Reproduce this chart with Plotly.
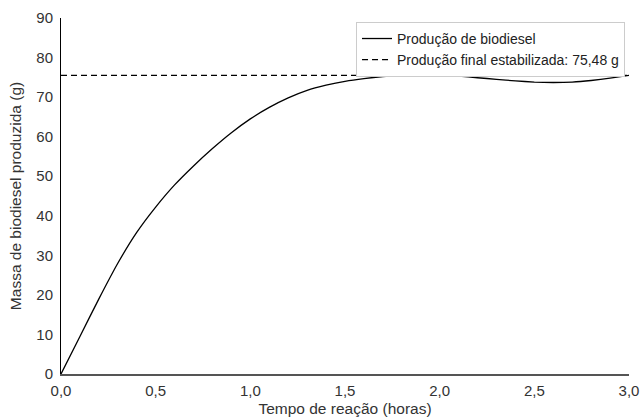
import plotly.graph_objects as go

tempo = [0.0, 0.1, 0.2, 0.3, 0.4, 0.5, 0.6, 0.7, 0.8, 0.9, 1.0, 1.1, 1.2, 1.3, 1.4, 1.5,
         1.6, 1.7, 1.8, 1.9, 2.0, 2.1, 2.2, 2.3, 2.4, 2.5, 2.6, 2.7, 2.8, 2.9, 3.0]
massa = [0.0, 9.5, 19.0, 28.0, 35.8, 42.2, 47.8, 52.6, 57.0, 61.0, 64.5, 67.4, 69.8, 71.7,
         73.0, 74.0, 74.7, 75.2, 75.5, 75.6, 75.5, 75.3, 74.9, 74.5, 74.1, 73.8, 73.7,
         73.8, 74.2, 74.8, 75.5]
producao_final = 75.48

fig = go.Figure()
fig.add_trace(go.Scatter(x=tempo, y=massa, mode="lines", name="Produção de biodiesel",
                         line=dict(color="black", width=1.3, shape="spline", smoothing=0.4)))
fig.add_trace(go.Scatter(x=[0, 3.0], y=[producao_final, producao_final], mode="lines",
                         name="Produção final estabilizada: 75,48 g",
                         line=dict(color="black", width=1.2, dash="6px,4px")))

fig.update_layout(
    width=643, height=418,
    margin=dict(l=61, r=14, t=18, b=44),
    plot_bgcolor="white", paper_bgcolor="white",
    separators=",.",
    font=dict(family="Liberation Sans, Arial, sans-serif", size=15, color="#333"),
    legend=dict(x=0.993, y=0.989, xanchor="right", yanchor="top",
                bordercolor="#cccccc", borderwidth=1, bgcolor="white",
                font=dict(size=14, color="#222"), tracegroupgap=0, itemwidth=30),
    xaxis=dict(range=[0, 3.0], dtick=0.5, tickformat=".1f", showgrid=False, zeroline=False,
               showline=True, linecolor="#555", linewidth=2, ticks="", automargin=False,
               tickfont=dict(size=15), ticklabelstandoff=2,
               title=dict(text="Tempo de reação (horas)", standoff=5, font=dict(size=15.5))),
    yaxis=dict(range=[0, 90], dtick=10, showgrid=False, zeroline=False,
               showline=True, linecolor="black", linewidth=1, ticks="", automargin=False,
               tickfont=dict(size=15), ticklabelstandoff=4,
               title=dict(text="Massa de biodiesel produzida (g)", standoff=10, font=dict(size=15.5))),
)

fig.write_html("out.html")
